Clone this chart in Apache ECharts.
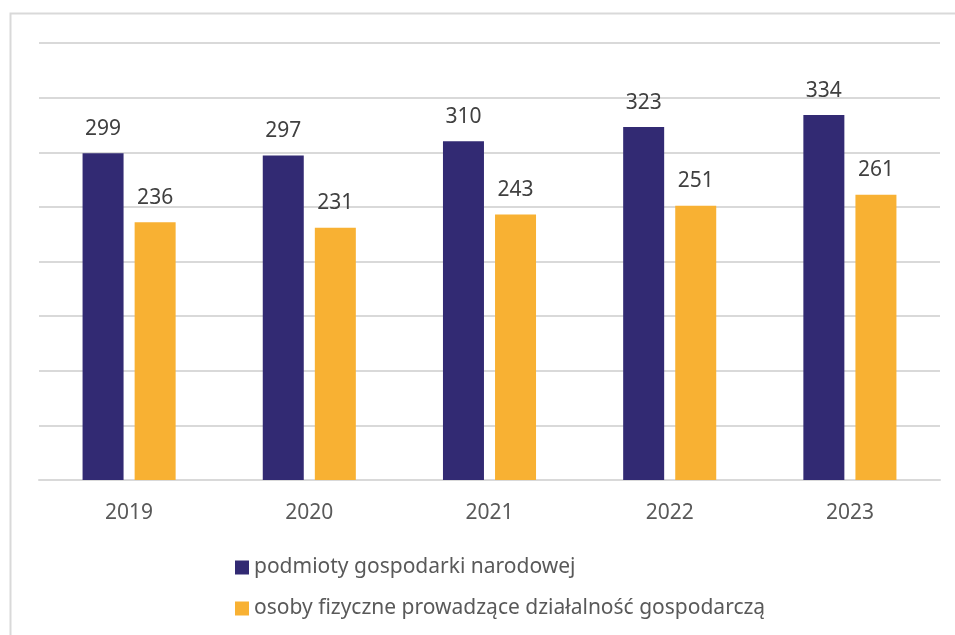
<!DOCTYPE html>
<html>
<head>
<meta charset="utf-8">
<script src="https://cdn.jsdelivr.net/npm/echarts@6/dist/echarts.min.js"></script>
<style>
  html, body { margin: 0; padding: 0; background: #fff; }
  #main { width: 955px; height: 635px; }
</style>
</head>
<body>
<div id="main"></div>
<script>
var years = ['2019', '2020', '2021', '2022', '2023'];
var podmioty = [299, 297, 310, 323, 334];
var osoby = [236, 231, 243, 251, 261];
var seriesNames = ['podmioty gospodarki narodowej', 'osoby fizyczne prowadzące działalność gospodarczą'];

var font = 'Noto Sans';
var chart = echarts.init(document.getElementById('main'));

chart.setOption({
  animation: false,
  textStyle: { fontFamily: font },
  graphic: [{
    type: 'rect',
    shape: { x: 10.5, y: 13.5, width: 960, height: 640 },
    style: { fill: 'none', stroke: '#d9d9d9', lineWidth: 2 },
    silent: true
  }],
  grid: { left: 39, right: 15, top: 43, bottom: 155 },
  legend: {
    orient: 'vertical',
    left: 230,
    top: 552,
    itemWidth: 14,
    itemHeight: 14,
    itemGap: 20,
    icon: 'rect',
    data: seriesNames,
    textStyle: { fontFamily: font, fontSize: 21, color: '#595959' }
  },
  xAxis: {
    type: 'category',
    data: years,
    axisLine: { lineStyle: { color: '#d9d9d9', width: 2 } },
    axisTick: { show: false },
    axisLabel: { fontFamily: font, fontSize: 21, color: '#595959', margin: 23 }
  },
  yAxis: {
    type: 'value',
    min: 0,
    max: 400,
    interval: 50,
    axisLabel: { show: false },
    axisLine: { show: false },
    axisTick: { show: false },
    splitLine: { lineStyle: { color: '#d9d9d9', width: 2 } }
  },
  series: [
    {
      name: seriesNames[0],
      type: 'bar',
      data: podmioty,
      barWidth: 41,
      barGap: '27%',
      itemStyle: { color: '#322a73' },
      label: { show: true, position: 'top', distance: 14, fontFamily: font, fontSize: 21, color: '#404040' }
    },
    {
      name: seriesNames[1],
      type: 'bar',
      data: osoby,
      barWidth: 41,
      itemStyle: { color: '#f8b133' },
      label: { show: true, position: 'top', distance: 14, fontFamily: font, fontSize: 21, color: '#404040' }
    }
  ]
});
</script>
</body>
</html>
